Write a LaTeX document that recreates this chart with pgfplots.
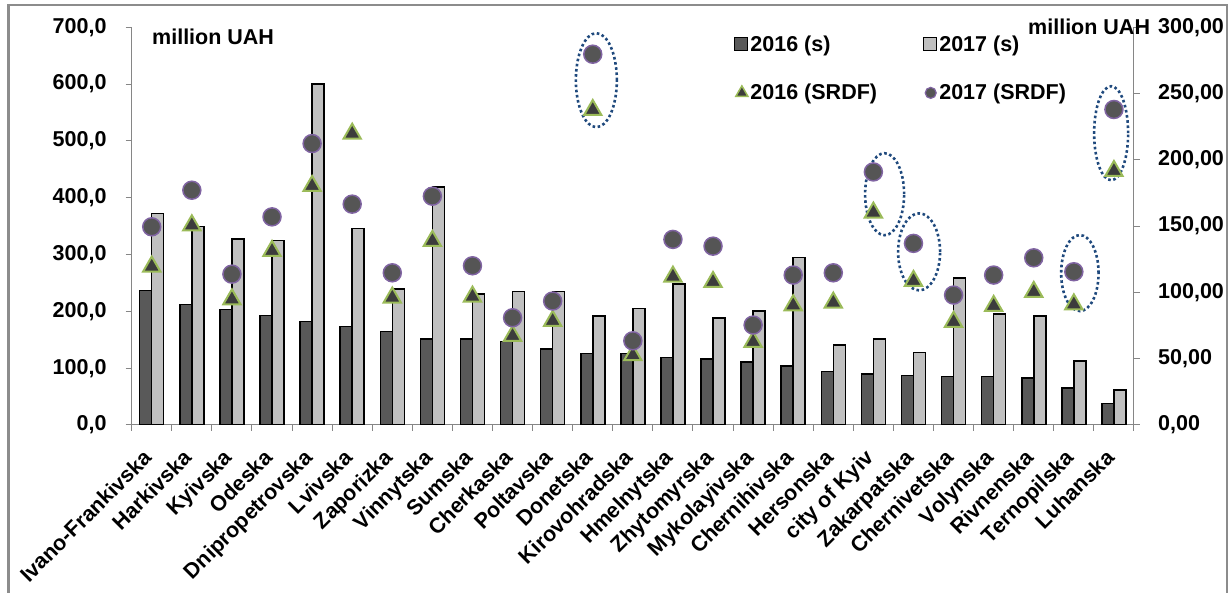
\documentclass[border=0pt]{standalone}
\usepackage{fontspec}
\setmainfont{Liberation Sans}[Kerning=Off]
\usepackage{pgfplots}
\pgfplotsset{compat=1.18}

\definecolor{bar16}{RGB}{89,89,89}
\definecolor{bar17}{RGB}{192,192,192}
\definecolor{triedge}{RGB}{155,187,89}
\definecolor{circedge}{RGB}{128,100,162}
\definecolor{trifill}{RGB}{60,60,60}
\definecolor{circfill}{RGB}{85,85,85}
\definecolor{axisgray}{RGB}{134,134,134}
\definecolor{framegray}{RGB}{140,140,140}
\definecolor{ovalblue}{RGB}{31,73,125}

\newcommand\cf{\fontsize{21.5}{26}\selectfont\bfseries}

\tikzset{oval/.style={draw=ovalblue, line width=2.6pt, dash pattern=on 2.6pt off 2.6pt}}

\pgfplotsset{
  common/.style={
    scale only axis, width=1002.3pt, height=397.7pt,
    at={(0pt,0pt)}, anchor=south west,
    xmin=-0.5, xmax=24.5,
    axis line style={draw=axisgray, line width=1pt},
    tick style={draw=axisgray, line width=1pt},
    tick align=outside, major tick length=6pt, minor tick length=6pt,
    tick label style={font=\cf},
    /pgf/number format/assume math mode=true,
  },
}

\begin{document}
\begin{tikzpicture}
\useasboundingbox (-131.7pt,-168pt) rectangle (1098.3pt,425pt);
\draw[framegray, line width=2.5pt] (-123.2pt,-200pt) -- (-123.2pt,420pt) -- (1095.3pt,420pt) -- (1095.3pt,-200pt);

% left axis: budget (s)
\begin{axis}[common,
  ymin=0, ymax=700, ytick={0,100,...,700},
  axis x line*=bottom, axis y line*=left,
  yticklabel style={/pgf/number format/fixed, /pgf/number format/fixed zerofill,
    /pgf/number format/precision=1, /pgf/number format/use comma},
  ybar=0pt, bar width=12pt,
  xtick={0,...,24},
  minor xtick={-0.5,0.5,...,24.5},
  major x tick style={draw=none},
  xticklabels={Ivano-Frankivska,Harkivska,Kyivska,Odeska,Dnipropetrovska,Lvivska,Zaporizka,Vinnytska,Sumska,Cherkaska,Poltavska,Donetska,Kirovohradska,Hmelnytska,Zhytomyrska,Mykolayivska,Chernihivska,Hersonska,city of Kyiv,Zakarpatska,Chernivetska,Volynska,Rivnenska,Ternopilska,Luhanska},
  xticklabel style={xshift=-9.5pt, yshift=-17pt, inner sep=0pt, rotate=45, anchor=north east},
  yticklabel style={inner sep=0pt, xshift=-19pt},
]
\addplot[fill=bar16, draw=black, line width=1.5pt] coordinates {
 (0,237) (1,212) (2,203) (3,193) (4,182) (5,173) (6,165) (7,151) (8,151) (9,147)
 (10,134) (11,126) (12,126) (13,119) (14,116) (15,111) (16,104) (17,94) (18,90)
 (19,87) (20,85) (21,85) (22,83) (23,65) (24,38)};
\addplot[fill=bar17, draw=black, line width=1.5pt] coordinates {
 (0,372) (1,349) (2,327) (3,325) (4,600) (5,346) (6,239) (7,419) (8,231) (9,235)
 (10,235) (11,192) (12,205) (13,248) (14,188) (15,201) (16,295) (17,141) (18,151)
 (19,128) (20,259) (21,195) (22,192) (23,113) (24,62)};
\end{axis}

% right axis: SRDF
\begin{axis}[common,
  ymin=0, ymax=300, ytick={0,50,...,300},
  axis y line*=right, hide x axis,
  yticklabel style={/pgf/number format/fixed, /pgf/number format/fixed zerofill,
    /pgf/number format/precision=2, /pgf/number format/use comma},
  yticklabel style={inner sep=0pt, xshift=18pt, anchor=west},
  legend columns=2, legend cell align=left,
  legend style={draw=none, fill=none, font=\cf, at={(0.598,0.988)}, anchor=north west,
    nodes={inner sep=2pt}, row sep=27pt,
    /tikz/every even column/.append style={column sep=44pt}},
]
\addlegendimage{legend image code/.code={\draw[fill=bar16, draw=black, line width=1.2pt] (0pt,-6pt) rectangle (13pt,7pt);}}
\addlegendentry{2016 (s)}
\addlegendimage{legend image code/.code={\draw[fill=bar17, draw=black, line width=1.2pt] (0pt,-6pt) rectangle (13pt,7pt);}}
\addlegendentry{2017 (s)}

\addplot[only marks, mark=triangle*, mark size=10pt,
  mark options={fill=trifill, draw=triedge, line width=2pt, yshift=-2.5pt},
  legend image code/.code={\draw[only marks, mark=triangle*, mark size=7pt,
    mark options={fill=trifill, draw=triedge, line width=1.5pt}] plot coordinates {(7pt,0pt)};}]
 coordinates {
 (0,121.4) (1,152.5) (2,96.7) (3,133.2) (4,182.2) (5,221.6) (6,98.0) (7,140.7)
 (8,98.7) (9,69.1) (10,80.4) (11,239.5) (12,54.5) (13,113.8) (14,109.8) (15,64.6)
 (16,92.2) (17,94.2) (18,162.1) (19,110.6) (20,79.7) (21,91.7) (22,102.3) (23,92.9)
 (24,193.5)};
\addlegendentry{2016 (SRDF)}
\addplot[only marks, mark=*, mark size=9pt,
  mark options={fill=circfill, draw=circedge, line width=1.5pt},
  legend image code/.code={\draw[only marks, mark=*, mark size=5.5pt,
    mark options={fill=circfill, draw=circedge, line width=1.2pt}] plot coordinates {(7pt,0pt)};}]
 coordinates {
 (0,149.5) (1,177.1) (2,113.8) (3,157.0) (4,212.3) (5,166.6) (6,114.8) (7,172.6)
 (8,120.1) (9,80.9) (10,93.5) (11,279.7) (12,63.5) (13,140.0) (14,134.9) (15,75.4)
 (16,113.1) (17,114.8) (18,190.9) (19,137.0) (20,98.0) (21,113.1) (22,126.1) (23,115.6)
 (24,238.0)};
\addlegendentry{2017 (SRDF)}

\draw[oval] (axis cs:11.09,260.1) ellipse [x radius=20.5pt, y radius=47pt];
\draw[oval] (axis cs:18.28,174.1) ellipse [x radius=19.5pt, y radius=41pt];
\draw[oval] (axis cs:19.14,130.6) ellipse [x radius=21pt, y radius=38.5pt];
\draw[oval] (axis cs:23.15,114.6) ellipse [x radius=18.7pt, y radius=38pt];
\draw[oval] (axis cs:23.93,220.1) ellipse [x radius=17pt, y radius=47pt];
\end{axis}

\node[anchor=base west, inner sep=0pt, font=\cf] at (20.3pt,380.7pt) {million UAH};
\node[anchor=base west, inner sep=0pt, font=\cf] at (896.3pt,390pt) {million UAH};
\end{tikzpicture}
\end{document}
